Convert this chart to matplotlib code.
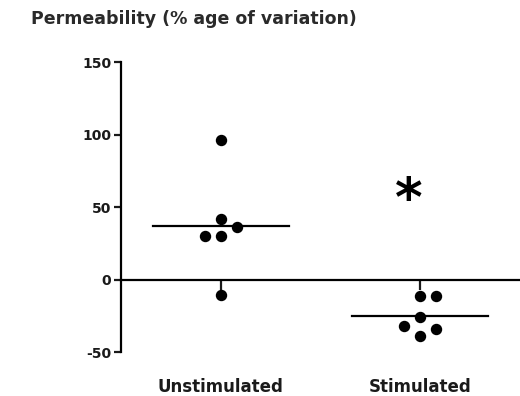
import matplotlib
matplotlib.use('Agg')
import matplotlib.pyplot as plt
import numpy as np

groups = ['Unstimulated', 'Stimulated']
unstim = [96, 42, 36, 30, 30, -10.5]
unstim_dx = [0, 0, 0.08, -0.08, 0, 0]
stim = [-11, -11, -25.5, -32, -34, -39]
stim_dx = [0, 0.08, 0, -0.08, 0.08, 0]
yticks = [-50, 0, 50, 100, 150]

plt.rcParams['font.family'] = ['DejaVu Sans']
fig = plt.figure(figsize=(5.2, 3.96), dpi=100)
ax = fig.add_axes([0.2327, 0.111, 0.7673, 0.732])

for i, (vals, dx) in enumerate([(unstim, unstim_dx), (stim, stim_dx)]):
    x = i + 1
    ax.plot(np.array(dx) + x, vals, 'o', color='black', markersize=7.2, zorder=3)
    m = np.mean(vals)
    ax.plot([x - 0.34, x + 0.34], [m, m], color='black', lw=1.6)

# significance mark
ax.text(1.94, 54.5, '*', fontsize=38, fontweight='bold', ha='center', va='center')

ax.set_xlim(0.5, 2.5)
ax.set_ylim(-50, 150)
ax.set_yticks(yticks)
ax.set_yticklabels([str(t) for t in yticks])
ax.set_xticks([1, 2])
ax.set_xticklabels(groups)
ax.spines['top'].set_visible(False)
ax.spines['right'].set_visible(False)
ax.spines['bottom'].set_position(('data', 0))
ax.spines['left'].set_linewidth(1.6)
ax.spines['bottom'].set_linewidth(1.6)
ax.tick_params(axis='y', length=5, width=1.6, pad=2, labelsize=10,
               colors='#1a1a1a')
ax.tick_params(axis='x', direction='out', length=7, width=1.6, pad=64,
               labelsize=12, colors='#1a1a1a')
for lbl in ax.get_xticklabels() + ax.get_yticklabels():
    lbl.set_fontweight('bold')

fig.text(0.06, 0.953, 'Permeability (% age of variation)', fontsize=12.5,
         fontweight='bold', color='#2a2a2a', ha='left', va='center')

fig.savefig('out.png', dpi=100)
